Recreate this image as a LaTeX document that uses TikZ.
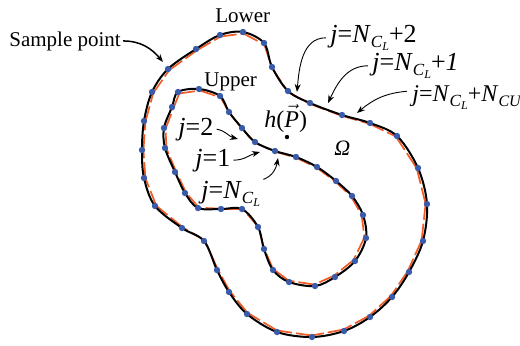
\documentclass[tikz,border=0pt]{standalone}
\usepackage{fontspec}
\setmainfont{Liberation Serif}
\usetikzlibrary{arrows.meta}

\definecolor{chordorange}{RGB}{240,92,40}
\definecolor{sampleblue}{RGB}{58,90,170}

\newcommand{\NCL}{\textit{N}\raisebox{-0.22em}{\fontsize{8.5}{9}\selectfont\textit{C}\raisebox{-0.18em}{\fontsize{6}{6}\selectfont\textit{L}}}}
\newcommand{\NCU}{\textit{N}\raisebox{-0.22em}{\fontsize{8}{9}\selectfont\textit{CU}}}

\begin{document}
\begin{tikzpicture}[x=0.5pt, y=-0.5pt,
		every node/.style={inner sep=1pt, font=\fontsize{10.5}{12}\selectfont},
		mathlbl/.style={inner sep=0.5pt, font=\fontsize{13}{15}\selectfont},
		boundary/.style={line width=1pt, black},
		chord/.style={line width=0.85pt, chordorange, dash pattern=on 8pt off 2pt},
		sample/.style={sampleblue},
		pointer/.style={line width=0.45pt, -{Stealth[length=4pt,width=3pt]}}]
	\useasboundingbox (0,0) rectangle (520,345);
	
	\def\outerpts{220/35, 243/32, 264/43, 272/67, 288/91, 310/103, 342/115, 370/123, 397/136, 418/168, 427/204, 423/241, 409/272, 392/297, 370/317, 344/331, 312/337, 277/332, 247/314, 229/292, 217/270, 204/241, 182/228, 155/206, 144/178, 142/150, 144/121, 152/92, 168/69, 196/49}
	\def\innerpts{178/92, 199/89, 220/96, 229/112, 242/128, 255/142, 275/151, 296/157, 317/167, 336/181, 352/196, 363/215, 366/238, 355/261, 335/277, 315/286, 289/282, 273/270, 264/249, 258/227, 242/209, 221/209, 198/208, 185/193, 175/172, 165/148, 164/128, 172/107}
	
	% chords between sample points
	\begin{scope}[scale around={0.99:(285,185)}]
		\foreach \x/\y [remember=\x as \lx (initially 196), remember=\y as \ly (initially 49)] in \outerpts
			\draw[chord] (\lx,\ly) -- (\x,\y);
	\end{scope}
	\begin{scope}[scale around={0.985:(265,190)}]
		\foreach \x/\y [remember=\x as \lx (initially 172), remember=\y as \ly (initially 107)] in \innerpts
			\draw[chord] (\lx,\ly) -- (\x,\y);
	\end{scope}
	
	% boundaries
	\draw[boundary] plot[smooth cycle, tension=0.55] coordinates {(220,35) (243,32) (264,43) (272,67) (288,91) (310,103) (342,115) (370,123) (397,136) (418,168) (427,204) (423,241) (409,272) (392,297) (370,317) (344,331) (312,337) (277,332) (247,314) (229,292) (217,270) (204,241) (182,228) (155,206) (144,178) (142,150) (144,121) (152,92) (168,69) (196,49)};
	\draw[boundary] plot[smooth cycle, tension=0.55] coordinates {(178,92) (199,89) (220,96) (229,112) (242,128) (255,142) (275,151) (296,157) (317,167) (336,181) (352,196) (363,215) (366,238) (355,261) (335,277) (315,286) (289,282) (273,270) (264,249) (258,227) (242,209) (221,209) (198,208) (185,193) (175,172) (165,148) (164,128) (172,107)};
	
	% sample points
	\foreach \x/\y in \outerpts
		\fill[sample] (\x,\y) circle[radius=1.6pt];
	\foreach \x/\y in \innerpts
		\fill[sample] (\x,\y) circle[radius=1.6pt];
	
	% labels
	\node[anchor=base west] (sample) at (7,46) {Sample point};
	\node[anchor=base west] (lower) at (213,22) {Lower};
	\node[anchor=base west] (upper) at (202,86) {Upper};
	\node[anchor=base west, font=\fontsize{12}{14}\selectfont] (hP) at (262,127) {\textit{h}($\vec{\mbox{\textit{P}}}$)};
	\node[anchor=base west, font=\fontsize{11}{13}\selectfont] (omega) at (332,155) {\textit{Ω}};
	\coordinate (hdot) at (287,137);
	\fill (hdot) circle[radius=1.1pt];
	
	\node[mathlbl, anchor=base west] (j2) at (177,135) {\textit{j}=2};
	\node[mathlbl, anchor=base west] (j1) at (194,166) {\textit{j}=1};
	\node[mathlbl, anchor=base west] (jN) at (200,198) {\textit{j}=\NCL};
	\node[mathlbl, anchor=base west] (jNtwo) at (329,42) {\textit{j}=\NCL+2};
	\node[mathlbl, anchor=base west] (jNone) at (371,70) {\textit{j}=\NCL+\textit{1}};
	\node[mathlbl, anchor=base west, font=\fontsize{12}{14}\selectfont] (jNU) at (411,101) {\textit{j}=\NCL+\NCU};
	
	\coordinate (tipSample) at (163,62);
	\coordinate (tipTwo) at (238,139);
	\coordinate (tipOne) at (260,152);
	\coordinate (tipN) at (278,158);
	\coordinate (tipNtwo) at (297,92);
	\coordinate (tipNone) at (328,103);
	\coordinate (tipNU) at (357,113);
	
	\draw[pointer, line width=0.75pt] (sample.east) to[out=0, in=130] (tipSample);
	\draw[pointer] ([xshift=1pt]j2.east) to[out=-10, in=165] (tipTwo);
	\draw[pointer] ([xshift=1pt]j1.east) to[out=0, in=195] (tipOne);
	\draw[pointer] ([xshift=1pt]jN.north east) to[out=20, in=-100] (tipN);
	\draw[pointer] ([xshift=-1.5pt]jNtwo.west) to[out=180, in=85] (tipNtwo);
	\draw[pointer] ([xshift=-1.5pt]jNone.west) to[out=180, in=65] (tipNone);
	\draw[pointer] ([xshift=-2pt,yshift=3pt]jNU.west) to[out=185, in=40] (tipNU);
\end{tikzpicture}
\end{document}
